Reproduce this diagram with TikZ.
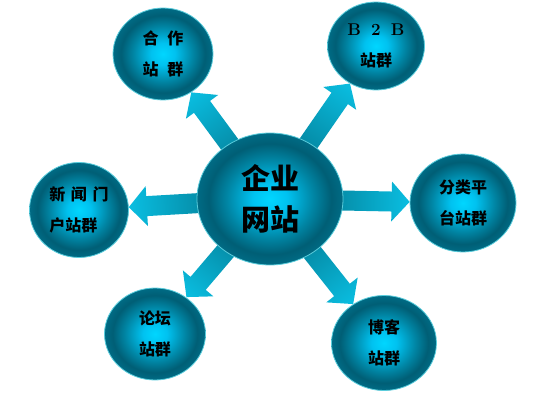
\documentclass[tikz,border=0pt]{standalone}
\usepackage{fontspec}
\newfontfamily\cjk{Noto Sans CJK SC}
\usetikzlibrary{shapes.geometric,calc,backgrounds}

\definecolor{tealdark}{RGB}{0,96,116}
\definecolor{cyanlite}{RGB}{10,190,225}
\definecolor{rimcyan}{RGB}{90,205,220}
\pgfdeclareradialshading{sphere}{\pgfpoint{0bp}{0bp}}{%
  rgb(0bp)=(0,0.84,1);rgb(6bp)=(0,0.76,0.94);rgb(15bp)=(0,0.52,0.64);%
  rgb(21bp)=(0,0.37,0.46);rgb(25bp)=(0,0.42,0.52);rgb(50bp)=(0,0.42,0.52)}

\newcommand\linkarrow[2]{%
  \path (#1) -- (#2) coordinate[pos=1] (tip);
  \path let \p1=($(tip)-(#1)$) in
    \pgfextra{\pgfmathsetmacro\arrang{atan2(\y1,\x1)}%
      \pgfmathsetmacro\arrlen{veclen(\x1,\y1)}%
      \global\let\arrang\arrang\global\let\arrlen\arrlen};
  \begin{scope}[transform canvas={shift={(#1)},rotate=\arrang}]
    \shade[arrowshade] (0pt,-10pt) -- ({\arrlen pt-18pt},-10pt) -- ({\arrlen pt-18pt},-20pt)
      -- (\arrlen pt,0pt) -- ({\arrlen pt-18pt},20pt) -- ({\arrlen pt-18pt},10pt) -- (0pt,10pt) -- cycle;
  \end{scope}}

\begin{document}
\begin{tikzpicture}[x=1pt,y=-1pt,
  ball/.style={ellipse,draw=rimcyan,line width=.8pt,shade,shading=sphere,inner sep=0pt,
    align=center,font=\cjk\bfseries\fontsize{16}{31}\selectfont},
  arrowshade/.style={left color=tealdark,right color=cyanlite}]
  \useasboundingbox (0,0) rectangle (558,404);

  \node[ball,minimum width=146,minimum height=132,font=\cjk\bfseries\fontsize{29}{41}\selectfont]
    (c) at (270,199) {企业\\网站};
  \node[ball,minimum width=100,minimum height=92] (hz) at (163,54) {合\hspace{.55em}作\\站\hspace{.55em}群};
  \node[ball,minimum width=97,minimum height=88] (b2b) at (376,46)
    {{\rmfamily\fontsize{17}{31}\selectfont B\hspace{.6em}2\hspace{.6em}B}\\站群};
  \node[ball,minimum width=106,minimum height=98] (fl) at (463,203) {分类平\\台站群};
  \node[ball,minimum width=105,minimum height=95] (bk) at (384,343) {博客\\站群};
  \node[ball,minimum width=101,minimum height=92] (lt) at (155,334) {论坛\\站群};
  \node[ball,minimum width=99,minimum height=95,align=left] (xw) at (79,210)
    {新\hspace{.35em}闻\hspace{.35em}门\\户站群};

  \begin{scope}[on background layer]
    \foreach \s in {hz,b2b,fl,bk,lt,xw}
      \linkarrow{c}{\s};
  \end{scope}
\end{tikzpicture}
\end{document}
